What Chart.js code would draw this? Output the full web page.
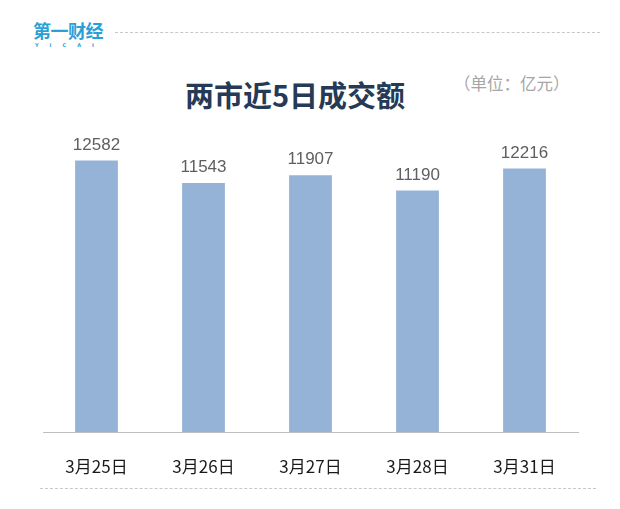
<!DOCTYPE html>
<html>
<head>
<meta charset="utf-8">
<script src="https://cdn.jsdelivr.net/npm/chart.js@4"></script>
<style>
  html, body { margin: 0; padding: 0; background: #fff; }
  #wrap { position: relative; width: 620px; height: 509px; overflow: hidden; font-family: "Noto Sans CJK SC", "Noto Sans", sans-serif; }
  #chart { position: absolute; left: 0; top: 0; }
  .logo { position: absolute; left: 33px; top: 21px; color: #2b9fd6; }
  .logo .cn { font-size: 18px; font-weight: bold; line-height: 19px; letter-spacing: -0.5px; }
  .logo .en { font-size: 5px; line-height: 6px; margin-top: 2px; letter-spacing: 11px; padding-left: 2px; font-family: "DejaVu Sans", sans-serif; font-weight: bold; }
  .dash { position: absolute; border-top: 1px dashed #c8c8c8; height: 0; }
  .title { position: absolute; left: 0; width: 590px; top: 73px; text-align: center; font-size: 29px; font-weight: bold; color: #243a56; }
  .unit { position: absolute; left: 454px; top: 71px; font-size: 16.5px; color: #a6a6a6; }
</style>
</head>
<body>
<div id="wrap">
  <div class="logo"><div class="cn">第一财经</div><div class="en">YICAI</div></div>
  <div class="dash" style="left:115px; top:32px; width:485px;"></div>
  <div class="title">两市近5日成交额</div>
  <div class="unit">（单位：亿元）</div>
  <div class="dash" style="left:40px; top:488px; width:556px;"></div>
  <canvas id="chart" width="620" height="509"></canvas>
</div>
<script>
// Data
const dates = ['3月25日', '3月26日', '3月27日', '3月28日', '3月31日'];
const turnover = [12582, 11543, 11907, 11190, 12216];

// draw values above bars
const valueLabels = {
  id: 'valueLabels',
  afterDatasetsDraw(chart) {
    const ctx = chart.ctx;
    const meta = chart.getDatasetMeta(0);
    ctx.save();
    ctx.font = '17px "Liberation Sans", Arial, sans-serif';
    ctx.fillStyle = '#5f5f5f';
    ctx.textAlign = 'center';
    ctx.textBaseline = 'bottom';
    meta.data.forEach((bar, i) => {
      ctx.fillText(String(turnover[i]), bar.x, bar.y - 7);
    });
    ctx.restore();
  }
};

new Chart(document.getElementById('chart'), {
  type: 'bar',
  data: {
    labels: dates,
    datasets: [{
      data: turnover,
      backgroundColor: '#95b3d7',
      barPercentage: 0.4,
      categoryPercentage: 1.0
    }]
  },
  options: {
    responsive: false,
    animation: false,
    layout: { padding: { left: 43, right: 42, top: 130, bottom: 0 } },
    plugins: { legend: { display: false }, tooltip: { enabled: false } },
    scales: {
      x: {
        grid: { display: false, drawTicks: false },
        border: { color: '#bfbfbf', width: 1 },
        ticks: { color: '#1a1a1a', padding: 24, font: { size: 17, family: '"Noto Sans CJK SC", sans-serif' } },
        afterFit: s => { s.height = 77; }
      },
      y: {
        display: false,
        min: 0,
        max: 14000
      }
    }
  },
  plugins: [valueLabels]
});
</script>
</body>
</html>
